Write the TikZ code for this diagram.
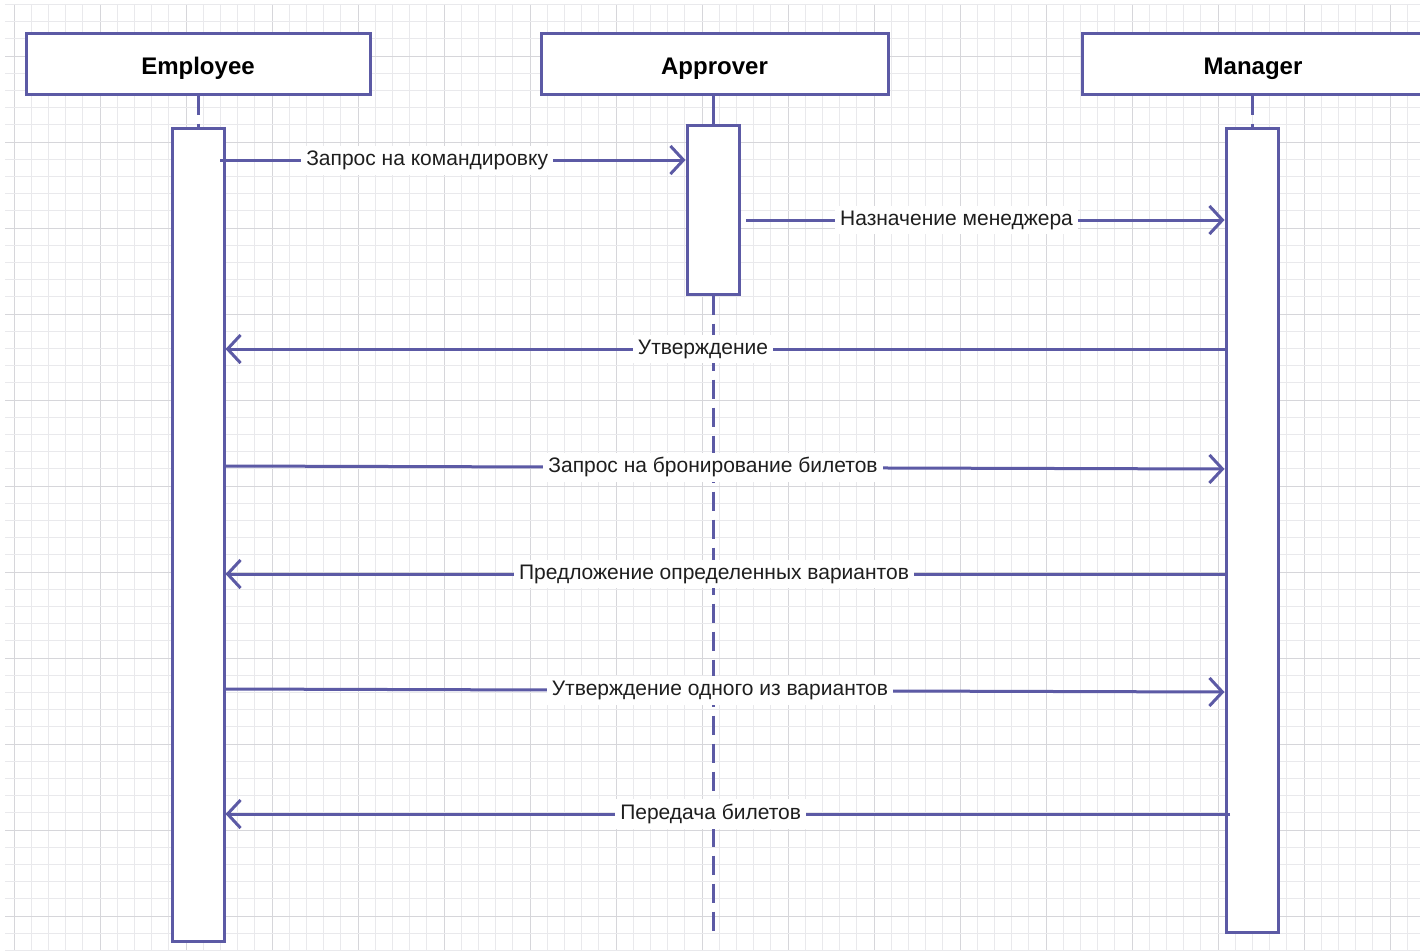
\documentclass[tikz,border=0pt]{standalone}
\usepackage{fontspec}
\setmainfont{Liberation Sans}
\usetikzlibrary{arrows.meta}
\definecolor{uml}{RGB}{92,90,165}
\definecolor{gridminor}{RGB}{233,233,236}
\definecolor{gridmajor}{RGB}{214,214,218}
\definecolor{labeltext}{RGB}{30,30,30}
\begin{document}
\begin{tikzpicture}[x=1pt,y=-1pt,
  header/.style={draw=uml,line width=3pt,fill=white,minimum width=344pt,minimum height=61pt,inner sep=0pt,text height=21pt,text depth=0pt,font=\fontsize{24}{28}\selectfont\bfseries,text=black},
  actbox/.style={draw=uml,line width=3pt,fill=white,minimum width=52pt,inner sep=0pt},
  life/.style={draw=uml,line width=3pt,dash pattern=on 19pt off 9pt},
  solidlife/.style={draw=uml,line width=3pt},
  msg/.style={draw=uml,line width=3pt,-{Straight Barb[length=13pt,width=28pt]}},
  lbl/.style={fill=white,inner sep=5pt,font=\fontsize{21}{25}\selectfont,text=labeltext},
  gminor/.style={draw=gridminor,line width=1pt},
  gmajor/.style={draw=gridmajor,line width=1pt}]
\useasboundingbox (0,0) rectangle (1420,951);
\fill[white] (0,0) rectangle (1420,951);
% grid
\foreach \i in {0,...,81}{
  \pgfmathsetmacro{\xx}{14+17.2*\i}
  \pgfmathtruncatemacro{\mm}{mod(\i,5)}
  \ifnum\mm=0
    \draw[gmajor] (\xx,4) -- (\xx,951);
  \else
    \draw[gminor] (\xx,4) -- (\xx,951);
  \fi
}
\foreach \i in {0,...,55}{
  \pgfmathsetmacro{\yy}{4.4+17.2*\i}
  \pgfmathtruncatemacro{\mm}{mod(\i+2,5)}
  \ifnum\mm=0
    \draw[gmajor] (5,\yy) -- (1420,\yy);
  \else
    \draw[gminor] (5,\yy) -- (1420,\yy);
  \fi
}
% headers
\node[header] (emp) at (198,63.5) {Employee};
\node[header,minimum width=347pt] (app) at (714.5,63.5) {Approver};
\node[header,minimum width=342pt] (mgr) at (1253,63.5) {Manager};
% activation boxes
\node[actbox,minimum height=813pt] (empAct) at (198,534.5) {};
\node[actbox,minimum height=169pt] (appAct) at (713,209.5) {};
\node[actbox,minimum height=804pt] (mgrAct) at (1252,530) {};
% lifelines
\coordinate (appEnd) at (713,935);
\draw[life] (empAct.north |- emp.south) -- (empAct.north);
\draw[solidlife] (appAct.north |- app.south) -- (appAct.north);
\draw[life] (appAct.south) -- (appEnd);
\draw[life] (mgrAct.north |- mgr.south) -- (mgrAct.north);
% messages
\coordinate (m1s) at (220,160);
\coordinate (m2s) at (746,220);
\coordinate (m7s) at (1230,814);
\draw[msg] (m1s) -- (appAct.west |- 0,160) node[lbl,pos=0.445] {Запрос на командировку};
\draw[msg] (m2s) -- (mgrAct.west |- 0,220) node[lbl,pos=0.44] {Назначение менеджера};
\draw[msg] (mgrAct.west |- 0,349) -- (empAct.east |- 0,349) node[lbl,pos=0.522] {Утверждение};
\draw[msg] (empAct.east |- 0,466) -- (mgrAct.west |- 0,469) node[lbl,pos=0.488] {Запрос на бронирование билетов};
\draw[msg] (mgrAct.west |- 0,574) -- (empAct.east |- 0,574) node[lbl,pos=0.511] {Предложение определенных вариантов};
\draw[msg] (empAct.east |- 0,689) -- (mgrAct.west |- 0,692) node[lbl,pos=0.495] {Утверждение одного из вариантов};
\draw[msg] (m7s) -- (empAct.east |- 0,814) node[lbl,pos=0.517] {Передача билетов};
\end{tikzpicture}
\end{document}
